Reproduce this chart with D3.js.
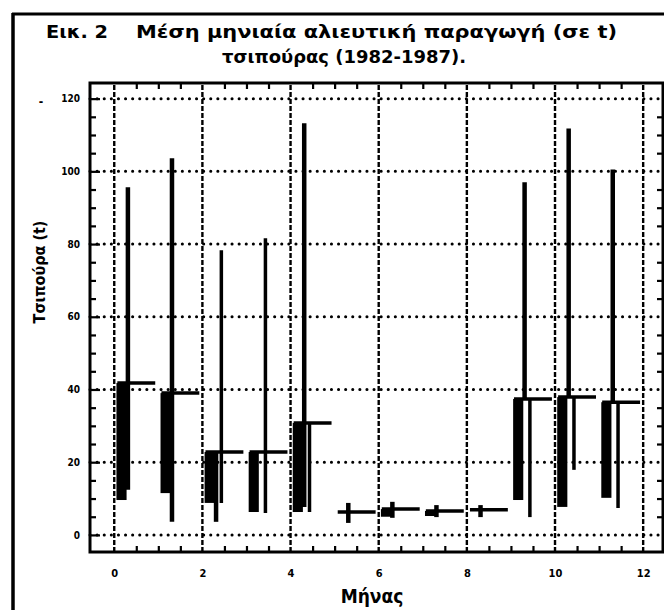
<!DOCTYPE html>
<html>
<head>
<meta charset="utf-8">
<script src="https://cdn.jsdelivr.net/npm/d3@7"></script>
<style>
  body { margin: 0; background: #fff; }
  svg { display: block; }
  text { font-family: "DejaVu Sans Condensed", "Liberation Sans", Arial, sans-serif; font-weight: bold; fill: #000; }
</style>
</head>
<body>
<svg id="chart" width="664" height="610"></svg>
<script>
// months 1..12, values in tonnes
const months = [1, 2, 3, 4, 5, 6, 7, 8, 9, 10, 11, 12];
const meanCatch = [41.8, 39.0, 22.8, 22.8, 30.8, 6.3, 7.1, 6.6, 6.9, 37.4, 37.9, 36.5];
const barLow    = [9.6, 11.5, 8.8, 6.3, 6.3, 6.3, 5.0, 5.2, 6.9, 9.6, 7.7, 10.2];
const lineAHigh = [95.6, 103.6, 22.8, null, 113.2, 8.8, 9.1, 8.2, 8.2, 97.0, 111.8, 100.5];
const lineALow  = [12.4, 3.6, 3.6, null, 7.7, 3.3, 4.7, 4.9, 4.9, 37.4, 37.9, 36.5];
const lineBHigh = [null, null, 78.3, 81.6, 30.8, null, null, null, null, 37.4, 37.9, 36.5];
const lineBLow  = [null, null, 8.8, 6.0, 6.3, null, null, null, null, 4.9, 17.9, 7.4];
const xTicks = [0, 2, 4, 6, 8, 10, 12];
const yTicks = [0, 20, 40, 60, 80, 100, 120];

const svg = d3.select("#chart");

const x = d3.scaleLinear().domain([-0.55, 12.45]).range([90, 663]);
const y = d3.scaleLinear().domain([-4.7, 124.3]).range([552, 83]);

// outer frame of the figure
svg.append("line").attr("x1", 13).attr("x2", 13).attr("y1", 13).attr("y2", 610)
  .attr("stroke", "#000").attr("stroke-width", 3.5);
svg.append("line").attr("x1", 12).attr("x2", 664).attr("y1", 14).attr("y2", 14)
  .attr("stroke", "#000").attr("stroke-width", 3);

// title
svg.append("text").attr("x", 46).attr("y", 38).attr("font-size", 18)
  .attr("textLength", 62).attr("lengthAdjust", "spacingAndGlyphs").text("Εικ. 2");
svg.append("text").attr("x", 136).attr("y", 38).attr("font-size", 18)
  .attr("textLength", 481).attr("lengthAdjust", "spacingAndGlyphs")
  .text("Μέση μηνιαία αλιευτική παραγωγή (σε t)");
svg.append("text").attr("x", 222).attr("y", 63).attr("font-size", 18)
  .attr("textLength", 244).attr("lengthAdjust", "spacingAndGlyphs")
  .text("τσιπούρας (1982-1987).");

// grid
const grid = svg.append("g");
grid.selectAll(".hg").data(yTicks).enter().append("line")
  .attr("x1", x.range()[0]).attr("x2", x.range()[1])
  .attr("y1", d => y(d)).attr("y2", d => y(d))
  .attr("stroke", "#000").attr("stroke-width", 3)
  .attr("stroke-linecap", "round").attr("stroke-dasharray", "0.1,7");
grid.selectAll(".vg").data(xTicks).enter().append("line")
  .attr("x1", d => x(d)).attr("x2", d => x(d))
  .attr("y1", y.range()[0]).attr("y2", y.range()[1])
  .attr("stroke", "#000").attr("stroke-width", 2.4)
  .attr("stroke-dasharray", "5,2");

// marks
const marks = svg.append("g");
months.forEach((m, i) => {
  const x0 = m - 1;
  if (barLow[i] < meanCatch[i]) {
    marks.append("rect")
      .attr("x", x(x0 + 0.05)).attr("width", x(x0 + 0.28) - x(x0 + 0.05))
      .attr("y", y(meanCatch[i])).attr("height", y(barLow[i]) - y(meanCatch[i]))
      .attr("fill", "#000");
  }
  if (lineAHigh[i] != null) {
    marks.append("line")
      .attr("x1", x(x0 + 0.31)).attr("x2", x(x0 + 0.31))
      .attr("y1", y(lineAHigh[i])).attr("y2", y(lineALow[i]))
      .attr("stroke", "#000").attr("stroke-width", 4.5);
  }
  if (lineBHigh[i] != null) {
    marks.append("line")
      .attr("x1", x(x0 + 0.43)).attr("x2", x(x0 + 0.43))
      .attr("y1", y(lineBHigh[i])).attr("y2", y(lineBLow[i]))
      .attr("stroke", "#000").attr("stroke-width", 3.5);
  }
  marks.append("line")
    .attr("x1", x(x0 + 0.07)).attr("x2", x(x0 + 0.93))
    .attr("y1", y(meanCatch[i])).attr("y2", y(meanCatch[i]))
    .attr("stroke", "#000").attr("stroke-width", 3.5);
});

// minor ticks on all four sides
const minorX = d3.range(0, 12.01, 0.5).filter(v => v % 2 !== 0);
const minorY = d3.range(0, 121, 5).filter(v => v % 20 !== 0);

function styleAxis(g) {
  g.select(".domain").remove();
  g.selectAll(".tick line").attr("stroke", "#000").attr("stroke-width", 2.2);
}
svg.append("g").attr("transform", `translate(${x.range()[0]},0)`)
  .call(d3.axisLeft(y).tickValues(minorY).tickSize(-6).tickFormat(""))
  .call(styleAxis);
svg.append("g").attr("transform", `translate(${x.range()[0]},0)`)
  .call(d3.axisLeft(y).tickValues(yTicks).tickSize(-10).tickFormat(""))
  .call(styleAxis);
svg.append("g").attr("transform", `translate(${x.range()[1]},0)`)
  .call(d3.axisRight(y).tickValues(minorY).tickSize(-6).tickFormat(""))
  .call(styleAxis);
svg.append("g").attr("transform", `translate(0,${y.range()[0]})`)
  .call(d3.axisBottom(x).tickValues(minorX).tickSize(-6).tickFormat(""))
  .call(styleAxis);
svg.append("g").attr("transform", `translate(0,${y.range()[1]})`)
  .call(d3.axisTop(x).tickValues(minorX).tickSize(-6).tickFormat(""))
  .call(styleAxis);

// frame
svg.append("rect")
  .attr("x", x.range()[0]).attr("y", y.range()[1])
  .attr("width", x.range()[1] - x.range()[0]).attr("height", y.range()[0] - y.range()[1])
  .attr("fill", "none").attr("stroke", "#000").attr("stroke-width", 3);

// tick labels
const yl = svg.append("g").attr("transform", "translate(80,0)")
  .call(d3.axisLeft(y).tickValues(yTicks).tickSize(0).tickPadding(0));
yl.select(".domain").remove();
yl.selectAll("text").attr("font-size", 10).attr("font-family", null);

const xl = svg.append("g").attr("transform", "translate(0,569)")
  .call(d3.axisBottom(x).tickValues(xTicks).tickSize(0).tickPadding(0));
xl.select(".domain").remove();
xl.selectAll("text").attr("font-size", 11).attr("font-family", null);

svg.append("text").attr("x", 41).attr("y", 106).attr("font-size", 12)
  .attr("text-anchor", "middle").text("-");

// axis titles
svg.append("text").attr("x", 372).attr("y", 603).attr("font-size", 19)
  .attr("text-anchor", "middle").text("Μήνας");
svg.append("text").attr("transform", "translate(45,272) rotate(-90)")
  .attr("font-size", 16).attr("text-anchor", "middle").text("Τσιπούρα (t)");
</script>
</body>
</html>
